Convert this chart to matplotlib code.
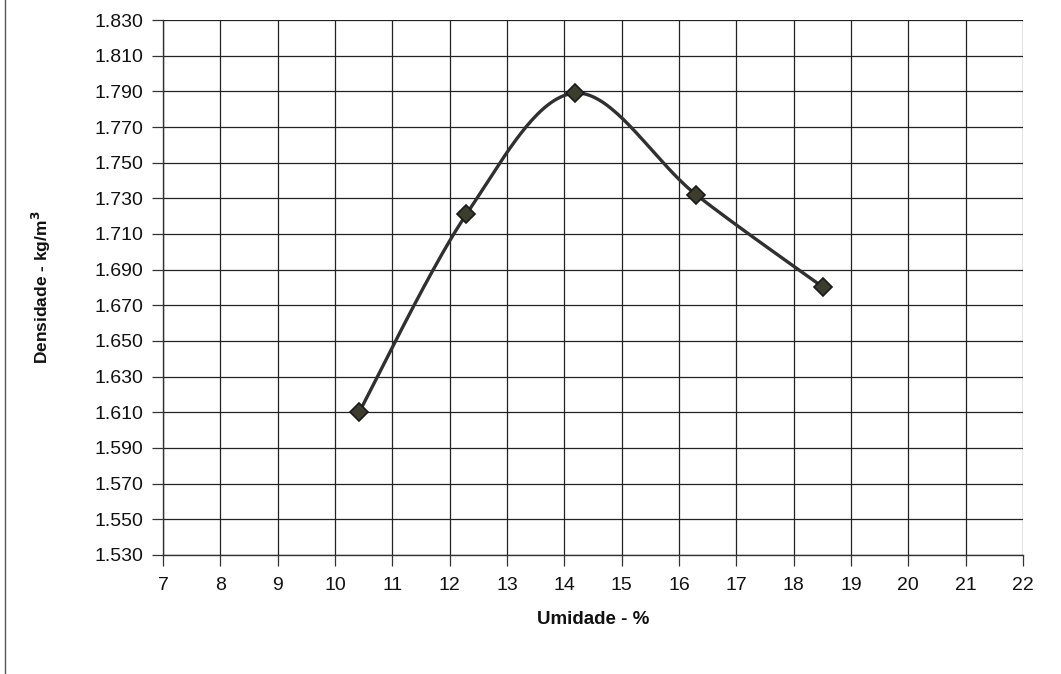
import matplotlib
matplotlib.use("Agg")
import matplotlib.pyplot as plt
import numpy
from matplotlib.lines import Line2D

umidade = [10.42, 12.29, 14.18, 16.30, 18.52]
densidade = [1.610, 1.721, 1.789, 1.732, 1.680]
xticks = list(range(7, 23))
yticks = [1.530, 1.550, 1.570, 1.590, 1.610, 1.630, 1.650, 1.670, 1.690,
          1.710, 1.730, 1.750, 1.770, 1.790, 1.810, 1.830]

def suave(xs, ys, n=40):
    # catmull-rom, like the excel smoothed line
    px = [xs[0]] + list(xs) + [xs[-1]]
    py = [ys[0]] + list(ys) + [ys[-1]]
    outx = []
    outy = []
    for i in range(1, len(px) - 2):
        t = numpy.linspace(0, 1, n)
        for p, out in ((px, outx), (py, outy)):
            p0, p1, p2, p3 = p[i - 1], p[i], p[i + 1], p[i + 2]
            out.extend(0.5 * ((2 * p1) + (-p0 + p2) * t
                              + (2 * p0 - 5 * p1 + 4 * p2 - p3) * t ** 2
                              + (-p0 + 3 * p1 - 3 * p2 + p3) * t ** 3))
    return outx, outy

plt.rcParams['font.family'] = ['Liberation Sans', 'DejaVu Sans']

fig = plt.figure(figsize=(10.61, 6.74), dpi=100)
ax = fig.add_axes([0.1536, 0.1766, 0.8106, 0.7937])

cx, cy = suave(umidade, densidade)
ax.plot(cx, cy, color='#303030', lw=2.4, zorder=3)
ax.plot(umidade, densidade, linestyle='none', marker='D', markersize=9,
        markerfacecolor='#3d3d2e', markeredgecolor='#1a1a1a', markeredgewidth=1.2, zorder=4)

ax.set_xlim(7, 22)
ax.set_ylim(1.530, 1.830)
ax.set_xticks(xticks)
ax.set_yticks(yticks)
ax.set_yticklabels(['%.3f' % v for v in yticks])
ax.grid(True, color='#222222', lw=0.9)
for s in ['top', 'right']:
    ax.spines[s].set_visible(False)
for s in ['left', 'bottom']:
    ax.spines[s].set_color('#333333')
    ax.spines[s].set_linewidth(1.0)
ax.tick_params(axis='both', direction='out', length=8, width=0.9, color='#333333',
               labelsize=14, labelcolor='#111111')
ax.tick_params(axis='x', pad=8)
ax.tick_params(axis='y', pad=6)

ax.set_xlabel('Umidade - %', fontsize=13.5, fontweight='bold', color='#111111')
ax.xaxis.set_label_coords(0.5, -0.105)
ax.set_ylabel('Densidade - kg/m$^\\mathbf{3}$', fontsize=12.5, fontweight='bold', color='#111111')
ax.yaxis.set_label_coords(-0.128, 0.5)

# border of the scanned chart area
fig.add_artist(Line2D([0.005, 0.005], [0.0, 1.0], color='#555555', lw=1.0))

fig.savefig('out.png', dpi=100)
